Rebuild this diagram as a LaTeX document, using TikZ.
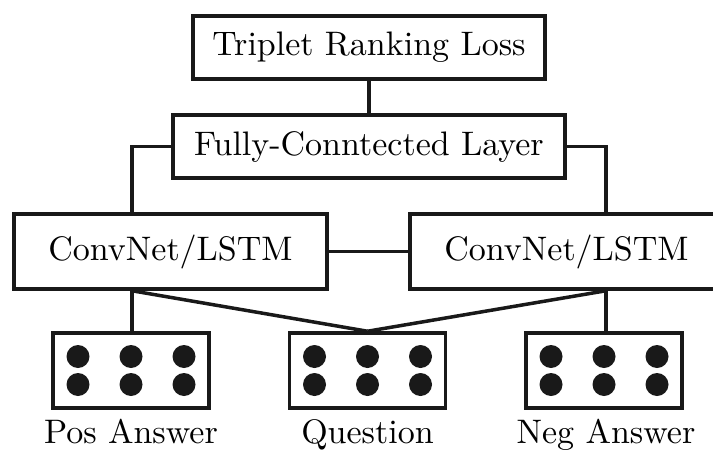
\documentclass[tikz,border=0pt]{standalone}
\newcommand{\bigtxt}[1]{\scalebox{3.4}{#1}}
\begin{document}
\begin{tikzpicture}[x=1pt,y=-1pt,
  box/.style={draw=black!90,line width=3.5pt,rectangle,inner sep=0pt,font=\fontsize{10}{12}\selectfont},
  dotbox/.style={draw=black!90,line width=3.5pt,rectangle,inner sep=0pt,minimum width=156pt,minimum height=75pt},
  lbl/.style={inner sep=0pt,anchor=base,font=\fontsize{10}{12}\selectfont},
  conn/.style={line width=3.5pt,draw=black!90},
  dotfill/.style={fill=black!90}]
\useasboundingbox (0,0) rectangle (713,450);
\clip (0,0) rectangle (713,450);
\node[box,minimum width=352pt,minimum height=63pt] (loss) at (369,47.5) {\bigtxt{Triplet Ranking Loss}};
\node[box,minimum width=392pt,minimum height=63pt] (fc) at (369,146.5) {\bigtxt{Fully-Conntected Layer}};
\node[box,minimum width=313pt,minimum height=75pt] (cl) at (170.5,251.5) {\bigtxt{ConvNet/LSTM}};
\node[box,minimum width=313pt,minimum height=75pt] (cr) at (566.5,251.5) {\bigtxt{ConvNet/LSTM}};
\node[dotbox] (pos) at (131,370.5) {};
\node[dotbox] (q) at (367.5,370.5) {};
\node[dotbox] (neg) at (604,370.5) {};
\foreach \b in {pos,q,neg}{
  \foreach \dx in {-53,0,53}{
    \foreach \dy in {-14,14}{
      \fill[dotfill] ([shift={(\dx pt,-\dy pt)}]\b.center) circle (11.5pt);
    }
  }
}
\node[lbl] (lpos) at (131,443) {\bigtxt{Pos Answer}};
\node[lbl] (lq) at (367.5,443) {\bigtxt{Question}};
\node[lbl] (lneg) at (606,443) {\bigtxt{Neg Answer}};
\coordinate (clb) at (132,289);
\coordinate (crb) at (606,289);
\draw[conn] (loss.south) -- (fc.north);
\draw[conn] (fc.west) -| (cl.north -| clb);
\draw[conn] (fc.east) -| (cr.north -| crb);
\draw[conn] (cl.east) -- (cr.west);
\draw[conn] (cl.south -| clb) -- (pos.north -| clb);
\draw[conn] (cr.south -| crb) -- (neg.north -| crb);
\draw[conn] (cl.south -| clb) -- (q.north);
\draw[conn] (cr.south -| crb) -- (q.north);
\end{tikzpicture}
\end{document}
